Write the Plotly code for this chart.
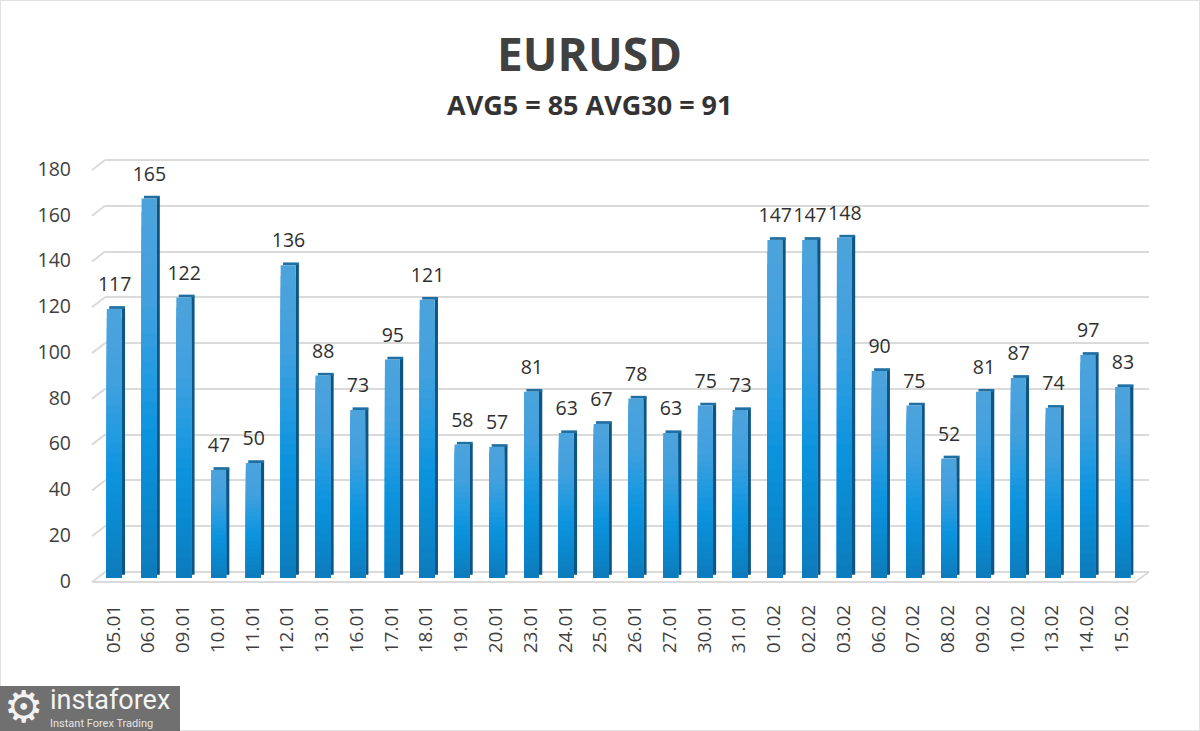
import plotly.graph_objects as go

dates = ["05.01","06.01","09.01","10.01","11.01","12.01","13.01","16.01","17.01","18.01",
         "19.01","20.01","23.01","24.01","25.01","26.01","27.01","30.01","31.01","01.02",
         "02.02","03.02","06.02","07.02","08.02","09.02","10.02","13.02","14.02","15.02"]
values = [117,165,122,47,50,136,88,73,95,121,58,57,81,63,67,78,63,75,73,147,147,148,90,75,52,81,87,74,97,83]
y_ticks = list(range(0, 181, 20))
title_text = "EURUSD"
subtitle_text = "AVG5 = 85 AVG30 = 91"

FONT = "Open Sans"
TXT = "#3f3f3f"
GRID = "#dadada"
W, H = 1200, 731
L, R = 96, 1149
TOP, BOT = 140, 600
PXU = 2.3
PXU_BACK = 2.289
PX_CAT = 34.77
plot_w = R - L
front_right = (30 * PX_CAT) / plot_w
back_left = 9 / plot_w

# colour stops of the front face: (share of bar height, r, g, b)
stops = [(1.00, 76, 163, 220), (0.75, 66, 160, 222), (0.55, 34, 155, 224),
         (0.40, 12, 147, 222), (0.22, 10, 137, 208), (0.00, 14, 122, 184)]
BANDS = 28

def shade(f):
    for (f1, *c1), (f2, *c2) in zip(stops, stops[1:]):
        if f2 <= f <= f1:
            t = (f1 - f) / (f1 - f2)
            return "rgb(%d,%d,%d)" % tuple(round(a + (b - a) * t) for a, b in zip(c1, c2))
    return "rgb(14,122,184)"

fig = go.Figure()

# back wall: first subplot, so its grid lies under the bars
fig.add_trace(go.Scatter(x=[0, 1], y=[0, 0], xaxis="x", yaxis="y", mode="markers",
                         marker=dict(opacity=0), hoverinfo="skip", showlegend=False))
# side face
fig.add_trace(go.Bar(x=dates, y=[v - 0.7 for v in values], base=[1.4] * len(values),
                     xaxis="x2", yaxis="y2",
                     offset=0.24, width=0.095, marker=dict(color="#0c5584", line_width=0),
                     hoverinfo="skip", showlegend=False))
# top face
fig.add_trace(go.Bar(x=dates, y=[1.2] * len(values), base=values,
                     xaxis="x2", yaxis="y2",
                     offset=-0.12, width=0.455, marker=dict(color="#1f6fa3", line_width=0),
                     hoverinfo="skip", showlegend=False))
# front face, stepped shade
for i in range(BANDS):
    f = 1 - i / BANDS
    fig.add_trace(go.Bar(x=dates, y=[v * f for v in values], offset=-0.19, width=0.43,
                         xaxis="x2", yaxis="y2",
                         marker=dict(color=shade(f), line_width=0), hoverinfo="skip", showlegend=False))
# value labels
fig.add_trace(go.Bar(x=dates, y=[v + 3.8 for v in values], offset=-0.194, width=0.46,
                     xaxis="x2", yaxis="y2",
                     marker=dict(color="rgba(0,0,0,0)", line_width=0),
                     text=[str(v) for v in values], textposition="outside", cliponaxis=False,
                     constraintext="none", textangle=0,
                     outsidetextfont=dict(family=FONT, size=19.5, color="#2f2f2f"),
                     hoverinfo="skip", showlegend=False))

shapes = []
for v in y_ticks:
    shapes.append(dict(type="line", xref="paper", yref="y", layer="below",
                       x0=(92 - L) / plot_w, x1=(105 - L) / plot_w, y0=v - 10 / PXU_BACK, y1=v,
                       line=dict(color=GRID, width=2)))
shapes.append(dict(type="line", xref="paper", yref="y", layer="below",
                   x0=(92 - L) / plot_w, x1=(1135 - L) / plot_w, y0=-10 / PXU_BACK, y1=-10 / PXU_BACK,
                   line=dict(color=GRID, width=2)))
shapes.append(dict(type="line", xref="paper", yref="y", layer="below",
                   x0=(1135 - L) / plot_w, x1=1.0, y0=-10 / PXU_BACK, y1=0,
                   line=dict(color=GRID, width=2)))
# page frame
shapes.append(dict(type="rect", xref="paper", yref="paper",
                   x0=-L / plot_w, x1=(W - L) / plot_w,
                   y0=-(H - BOT) / (BOT - TOP), y1=1 + TOP / (BOT - TOP),
                   line=dict(color="#e2e2e2", width=2), layer="below"))
# logo plate
shapes.append(dict(type="rect", xref="paper", yref="paper",
                   x0=-L / plot_w, x1=(180 - L) / plot_w,
                   y0=-(731 - BOT) / (BOT - TOP), y1=-(686 - BOT) / (BOT - TOP),
                   fillcolor="#707070", line_width=0, layer="above"))

annos = [
    dict(text=title_text, x=589, y=53, size=46, color="#404040"),
    dict(text=subtitle_text, x=589, y=104, size=27, color="#333333"),
]
annotations = []
for a in annos:
    annotations.append(dict(text=f"<b>{a['text']}</b>", xref="paper", yref="paper", showarrow=False,
                            x=(a["x"] - L) / plot_w, y=(BOT - a["y"]) / (BOT - TOP),
                            xanchor="center", yanchor="middle",
                            font=dict(family=FONT, size=a["size"], color=a["color"])))
annotations += [
    dict(text="⚙", xref="paper", yref="paper", showarrow=False,
         x=(24 - L) / plot_w, y=(BOT - 706) / (BOT - TOP), xanchor="center", yanchor="middle",
         font=dict(family="DejaVu Sans", size=44, color="#f2f2f2")),
    dict(text="instaforex", xref="paper", yref="paper", showarrow=False,
         x=(48 - L) / plot_w, y=(BOT - 700) / (BOT - TOP), xanchor="left", yanchor="middle",
         font=dict(family="Roboto", size=27, color="#f4f4f4")),
    dict(text="Instant Forex Trading", xref="paper", yref="paper", showarrow=False,
         x=(48 - L) / plot_w, y=(BOT - 723) / (BOT - TOP), xanchor="left", yanchor="middle",
         font=dict(family="Roboto", size=11, color="#e4e4e4")),
]

fig.update_layout(
    width=W, height=H, autosize=False,
    margin=dict(l=L, r=W - R, t=TOP, b=H - BOT, pad=0),
    paper_bgcolor="white", plot_bgcolor="rgba(0,0,0,0)",
    barmode="overlay", showlegend=False,
    font=dict(family=FONT, color=TXT),
    shapes=shapes, annotations=annotations,
    xaxis=dict(domain=[back_left, 1], range=[0, 1], visible=False, anchor="y"),
    yaxis=dict(domain=[0, 1], range=[-(BOT - 572) / PXU_BACK, (572 - TOP) / PXU_BACK],
               tickmode="array", tickvals=y_ticks, ticks="",
               showgrid=True, gridcolor=GRID, gridwidth=2, zeroline=False, showline=False,
               ticklabelstandoff=33, ticklabelshift=9,
               tickfont=dict(family=FONT, size=19.5, color=TXT), anchor="x"),
    xaxis2=dict(domain=[0, front_right], type="category", categoryorder="array", categoryarray=dates,
                tickmode="array", tickvals=dates, ticktext=dates, tickangle=-90, ticks="",
                range=[-0.5, 29.5], showgrid=False, zeroline=False, showline=False,
                tickfont=dict(family=FONT, size=19, color=TXT), anchor="y2"),
    yaxis2=dict(domain=[0, 1], range=[-(BOT - 578) / PXU, (578 - TOP) / PXU],
                tickmode="array", tickvals=y_ticks, ticks="", showgrid=False, zeroline=False,
                showline=False, showticklabels=False, anchor="x2"),
)

fig.write_html("out.html", config=dict(displayModeBar=False),
               post_script="document.body.style.margin='0';document.body.style.overflow='hidden';")
